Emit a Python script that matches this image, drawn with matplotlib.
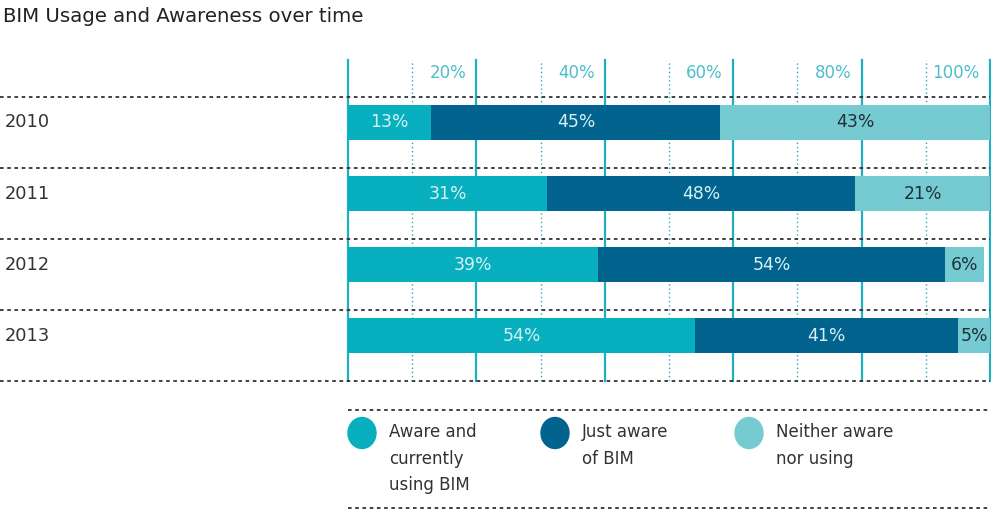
import matplotlib
matplotlib.use('Agg')
import matplotlib.pyplot as plt
import matplotlib.transforms as mtransforms
from matplotlib import font_manager
from matplotlib.patches import Ellipse

# data
years = ['2010', '2011', '2012', '2013']
aware_using = [13, 31, 39, 54]
just_aware = [45, 48, 54, 41]
neither = [43, 21, 6, 5]
tick_values = [20, 40, 60, 80, 100]
tick_labels = ['20%', '40%', '60%', '80%', '100%']
legend_labels = ['Aware and\ncurrently\nusing BIM', 'Just aware\nof BIM', 'Neither aware\nnor using']
title = 'BIM Usage and Awareness over time'

C_USING = '#08afbe'
C_AWARE = '#02638f'
C_NEITHER = '#76cbd2'
C_GRID = '#1eb0c0'
C_TICK = '#4cbfca'
C_DASH = '#333333'

# condensed font if there is one, otherwise shrink DejaVu
try:
    font_manager.findfont(font_manager.FontProperties(family='Liberation Sans Narrow'),
                          fallback_to_default=False)
    FAMILY, SCALE = 'Liberation Sans Narrow', 1.0
except Exception:
    FAMILY, SCALE = 'DejaVu Sans', 0.75
plt.rcParams['font.family'] = [FAMILY, 'DejaVu Sans']

W, H = 991, 511
fig = plt.figure(figsize=(W / 100, H / 100), dpi=100)
fig.patch.set_facecolor('white')

# bar area: rows are 1 unit apart, dashed separators at 0..4
ax = fig.add_axes([348 / W, 1 - 381 / H, 642 / W, 321 / H])
ax.set_xlim(0, 100)
ax.set_ylim(4, -0.52)
ax.axis('off')

y = [i + 0.36 for i in range(len(years))]
bar_h = 0.49

ax.barh(y, aware_using, height=bar_h, color=C_USING, zorder=3)
ax.barh(y, just_aware, left=aware_using, height=bar_h, color=C_AWARE, zorder=3)
left3 = [a + b for a, b in zip(aware_using, just_aware)]
ax.barh(y, neither, left=left3, height=bar_h, color=C_NEITHER, zorder=3)

# segment labels
for i in range(len(years)):
    segs = [(0, aware_using[i], '#d4f1f4'),
            (aware_using[i], just_aware[i], '#d4f1f4'),
            (left3[i], neither[i], '#1d3238')]
    for start, val, col in segs:
        cx = start + val / 2
        if start + val > 100:
            cx = (start + 100) / 2
        ax.text(cx, y[i], f'{val}%', ha='center', va='center', color=col,
                fontsize=16.5 * SCALE, zorder=4)

# vertical grid: solid every 20, dotted in between
for v in [0] + tick_values:
    ax.plot([v, v], [4, -0.52], color=C_GRID, lw=1.6, zorder=1, clip_on=False)
for v in [10, 30, 50, 70, 90]:
    ax.plot([v, v], [4, -0.52], color=C_GRID, lw=1.0, ls=(0, (1, 2)), zorder=1)

for v, lab in zip(tick_values, tick_labels):
    ax.text(v - 1.6, -0.33, lab, ha='right', va='center', color=C_TICK,
            fontsize=16 * SCALE)

# dashed separators running across the whole width
trans = mtransforms.blended_transform_factory(fig.transFigure, ax.transData)
for k in range(len(years) + 1):
    ax.plot([0, 990 / W], [k, k], transform=trans, color=C_DASH, lw=1.3,
            ls=(0, (2, 2)), clip_on=False, zorder=2)

for yi, yr in zip(y, years):
    ax.text(5 / W, yi, yr, transform=trans, ha='left', va='center',
            color='#333333', fontsize=17 * SCALE)

fig.text(3 / W, 1 - 16 / H, title, ha='left', va='center', color='#222222',
         fontsize=19 * SCALE)

# legend block
for yl in [410, 508]:
    fig.add_artist(plt.Line2D([348 / W, 990 / W], [1 - yl / H, 1 - yl / H],
                              color=C_DASH, lw=1.3, ls=(0, (2, 2))))
legend_x = [362, 555, 749]
for lx, lab, col in zip(legend_x, legend_labels, [C_USING, C_AWARE, C_NEITHER]):
    fig.add_artist(Ellipse((lx / 100, (H - 433) / 100), 0.28, 0.31,
                           transform=fig.dpi_scale_trans, color=col))
    fig.text((lx + 27) / W, 1 - 423 / H, lab, ha='left', va='top', color='#333333',
             fontsize=16 * SCALE, linespacing=1.62)

fig.savefig('out.png', dpi=100, facecolor='white')
